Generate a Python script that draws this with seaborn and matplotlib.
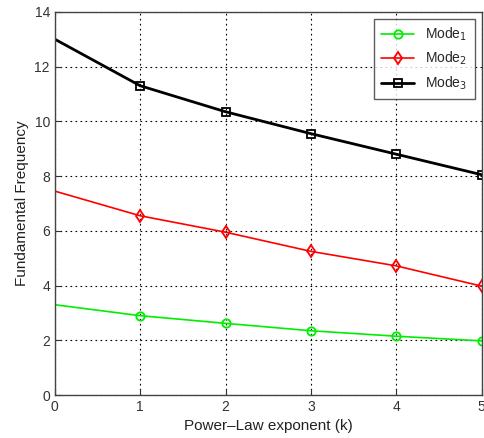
import pandas as pd
import seaborn as sns
import matplotlib
matplotlib.use("Agg")
import matplotlib.pyplot as plt

k = [0, 1, 2, 3, 4, 5]
mode1 = [3.3, 2.9, 2.62, 2.35, 2.15, 1.98]
mode2 = [7.45, 6.55, 5.95, 5.25, 4.72, 3.98]
mode3 = [13.0, 11.3, 10.35, 9.55, 8.8, 8.05]
labels = [r"Mode$_1$", r"Mode$_2$", r"Mode$_3$"]

sns.set_style("ticks")
plt.rcParams["font.family"] = ["Liberation Sans", "DejaVu Sans"]

fig = plt.figure(figsize=(4.85, 4.38), dpi=100)
ax = fig.add_axes([0.113, 0.098, 0.88, 0.875])

# colour, marker, line width for each mode
styles = [("#00ee00", "o", 1.2), ("#ff0000", "d", 1.2), ("#000000", "s", 2.0)]
for lab, vals, (c, m, lw) in zip(labels, [mode1, mode2, mode3], styles):
    sub = pd.DataFrame({"k": k, "freq": vals})
    sns.lineplot(data=sub, x="k", y="freq", ax=ax, color=c, lw=lw,
                 marker=m, markersize=6, markerfacecolor="none",
                 markeredgecolor=c, markeredgewidth=1.3,
                 markevery=[1, 2, 3, 4, 5], label=lab)

ax.set_xlim(0, 5)
ax.set_ylim(0, 14)
ax.set_xticks(range(0, 6))
ax.set_yticks(range(0, 15, 2))
ax.grid(True, color="black", linestyle=(0, (1.5, 3)), lw=0.8)
for s in ax.spines.values():
    s.set_color("#444444")
    s.set_linewidth(1.0)
ax.tick_params(direction="in", length=4, colors="#333333", labelsize=10)
ax.set_xlabel("Power\u2013Law exponent (k)", fontsize=11, color="#222222")
ax.set_ylabel("Fundamental Frequency", fontsize=11, color="#222222")
leg = ax.legend(loc="upper right", fancybox=False, edgecolor="#333333",
                fontsize=10, handlelength=2.4, borderpad=0.5)
leg.get_frame().set_linewidth(1.0)

fig.savefig("out.png", dpi=100)
